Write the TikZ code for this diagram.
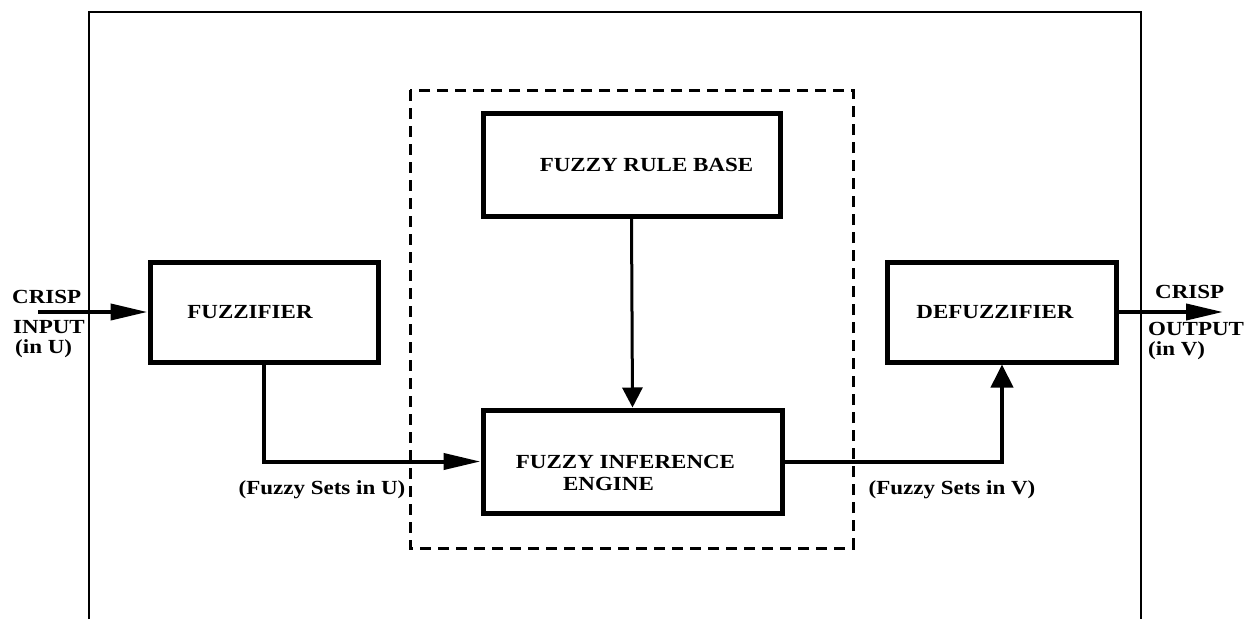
\documentclass[tikz,border=0pt]{standalone}
\usepackage{fontspec}
\usepackage{tikz}
\usetikzlibrary{positioning,arrows.meta}
\newfontfamily\blockfont[FakeStretch=1.15]{Liberation Serif}

\tikzset{
  blockbox/.style={draw,line width=5pt,minimum width=228pt,minimum height=100pt,
    font=\blockfont\bfseries\fontsize{20}{22}\selectfont,align=center},
  lbl/.style={font=\blockfont\bfseries\fontsize{20}{22}\selectfont,inner sep=0pt},
  flowline/.style={line width=4pt,-{Triangle[length=37pt,width=16pt]}},
  upline/.style={line width=4pt,-{Triangle[length=23pt,width=22pt]}},
  dashbox/.style={line width=3pt,dash pattern=on 11pt off 7pt},
}

\begin{document}
\begin{tikzpicture}[x=1pt,y=-1pt]
  \useasboundingbox (0,0) rectangle (1255,619);
  % outer frame, open at the bottom
  \draw[line width=2.5pt] (89,619) -- (89,12) -- (1141,12) -- (1141,619);
  \draw[dashbox] (410,90) rectangle (853,548);

  % blocks
  \node[blockbox] (fuzz) at (264,312) {FUZZIFIER\hspace*{28pt}};
  \node[blockbox,minimum width=229pt] (defuzz) at (1002,312) {DEFUZZIFIER\hspace*{14pt}};
  \node[blockbox,minimum width=297pt,minimum height=103pt] (rules) at (631.5,164.5) {\hspace*{30pt}FUZZY RULE BASE};
  \node[blockbox,minimum width=299pt,minimum height=103pt] (engine) at (632.5,461.5)
    {\begin{tabular}{@{}c@{}}\rule{0pt}{42pt}FUZZY INFERENCE\\[0pt]ENGINE\hspace*{34pt}\end{tabular}\hspace*{14pt}};

  % free ends
  \coordinate (crispin) at (38,312);
  \coordinate (crispout) at (1223,312);

  % connectors
  \draw[flowline] (crispin) -- (fuzz.west);
  \draw[flowline] (fuzz.south) |- (engine.west);
  \draw[line width=3pt,-{Triangle[length=20pt,width=20pt]}] (rules.south) -- (engine.north);
  \draw[upline] (engine.east) -| (defuzz.south);
  \draw[flowline] (defuzz.east) -- (crispout);

  % labels
  \node[lbl,anchor=north west,align=left] (inB) at (13,320) {INPUT\\[-2pt]\hspace*{2pt}(in U)};
  \node[lbl,anchor=west] (inA) at (12,297) {CRISP};
  \node[lbl,anchor=west] (outA) at (1155,292) {CRISP};
  \node[lbl,anchor=north west,align=left] (outB) at (1148,322) {OUTPUT\\[-2pt](in V)};
  \node[lbl] (setsU) at (322,490) {(Fuzzy Sets in U)};
  \node[lbl] (setsV) at (952,490) {(Fuzzy Sets in V)};
\end{tikzpicture}
\end{document}
